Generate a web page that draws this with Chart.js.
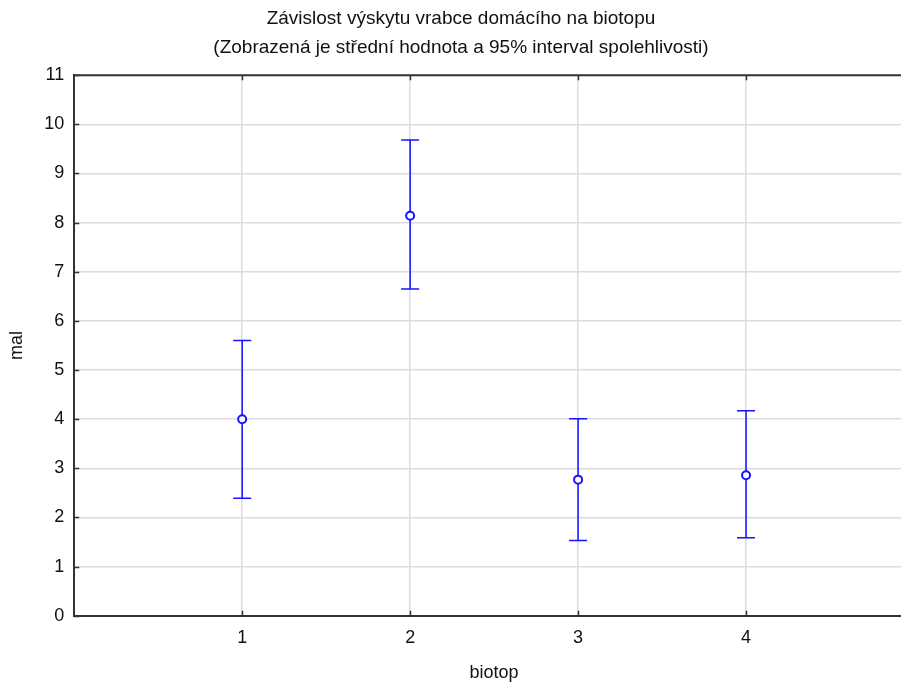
<!DOCTYPE html>
<html>
<head>
<meta charset="utf-8">
<script src="https://cdn.jsdelivr.net/npm/chart.js@4"></script>
<style>
  html, body { margin: 0; padding: 0; background: #fff; overflow: hidden; }
  #wrap { width: 925px; height: 684px; }
</style>
</head>
<body>
<div id="wrap"><canvas id="chart" width="925" height="684"></canvas></div>
<script>
// Means with 95% confidence interval per biotop
const categories = [1, 2, 3, 4];
const means = [4.0, 8.14, 2.77, 2.86];
const lower = [2.39, 6.65, 1.53, 1.59];
const upper = [5.60, 9.68, 4.01, 4.17];
const xTickLabels = ['1', '2', '3', '4'];

const blue = '#1414ff';
const font = 'Liberation Sans, Arial, sans-serif';

// draws the interval whiskers before the mean points
const errorBars = {
    id: 'errorBars',
    beforeDatasetsDraw(chart) {
        const { ctx, scales: { x, y } } = chart;
        ctx.save();
        ctx.strokeStyle = blue;
        ctx.lineWidth = 1.5;
        categories.forEach((c, i) => {
            const px = x.getPixelForValue(c);
            const lo = y.getPixelForValue(lower[i]);
            const hi = y.getPixelForValue(upper[i]);
            ctx.beginPath();
            ctx.moveTo(px, lo); ctx.lineTo(px, hi);
            ctx.moveTo(px - 9, lo); ctx.lineTo(px + 9, lo);
            ctx.moveTo(px - 9, hi); ctx.lineTo(px + 9, hi);
            ctx.stroke();
        });
        ctx.restore();
    }
};

// small inward tick marks and top frame line
const frame = {
    id: 'frame',
    afterDraw(chart) {
        const { ctx, chartArea: a, scales: { x, y } } = chart;
        ctx.save();
        ctx.strokeStyle = '#333';
        ctx.lineWidth = 2;
        ctx.beginPath();
        ctx.moveTo(a.left, a.top); ctx.lineTo(a.right, a.top);
        ctx.stroke();
        ctx.lineWidth = 1.5;
        ctx.beginPath();
        categories.forEach(c => {
            const px = Math.round(x.getPixelForValue(c)) + 0.5;
            ctx.moveTo(px, a.bottom); ctx.lineTo(px, a.bottom - 5);
            ctx.moveTo(px, a.top); ctx.lineTo(px, a.top + 5);
        });
        y.ticks.forEach(t => {
            const py = Math.round(y.getPixelForValue(t.value)) + 0.5;
            ctx.moveTo(a.left, py); ctx.lineTo(a.left + 5, py);
        });
        ctx.stroke();
        ctx.restore();
    }
};

new Chart(document.getElementById('chart'), {
    type: 'scatter',
    data: {
        datasets: [{
            label: 'mal',
            data: categories.map((c, i) => ({ x: c, y: means[i] })),
            borderColor: blue,
            backgroundColor: '#fff',
            pointRadius: 4,
            pointBorderWidth: 2,
            pointHoverRadius: 4
        }]
    },
    options: {
        responsive: false,
        animation: false,
        layout: { padding: { left: 6, right: 9, top: 0, bottom: 0 } },
        plugins: {
            legend: { display: false },
            tooltip: { enabled: false },
            title: {
                display: true,
                text: ['Závislost výskytu vrabce domácího na biotopu',
                       '(Zobrazená je střední hodnota a 95% interval spolehlivosti)'],
                color: '#111',
                font: { family: font, size: 19, weight: 'normal', lineHeight: 1.53 },
                padding: { top: 4.5, bottom: 12.5 }
            }
        },
        scales: {
            x: {
                type: 'linear',
                min: 0,
                max: 5,
                afterBuildTicks: s => { s.ticks = [0, ...categories, 5].map(v => ({ value: v })); },
                ticks: {
                    color: '#111',
                    font: { family: font, size: 18 },
                    padding: 11,
                    callback: v => categories.includes(v) ? xTickLabels[categories.indexOf(v)] : ''
                },
                grid: {
                    color: c => categories.includes(c.tick?.value) ? '#dcdcdc' : 'rgba(0,0,0,0)',
                    lineWidth: 1.5,
                    drawTicks: false
                },
                border: { color: '#333', width: 2 },
                title: {
                    display: true,
                    text: 'biotop',
                    color: '#111',
                    font: { family: font, size: 18 },
                    padding: { top: 3, bottom: 0 }
                }
            },
            y: {
                min: 0,
                max: 11,
                ticks: {
                    stepSize: 1,
                    color: '#111',
                    font: { family: font, size: 18 },
                    padding: 10
                },
                grid: {
                    color: c => c.tick?.value === 11 ? 'rgba(0,0,0,0)' : '#dcdcdc',
                    lineWidth: 1.5,
                    drawTicks: false
                },
                border: { color: '#333', width: 2 },
                title: {
                    display: true,
                    text: 'mal',
                    color: '#111',
                    font: { family: font, size: 18 },
                    padding: { top: 0, bottom: 6.6 }
                }
            }
        }
    },
    plugins: [errorBars, frame]
});
</script>
</body>
</html>
